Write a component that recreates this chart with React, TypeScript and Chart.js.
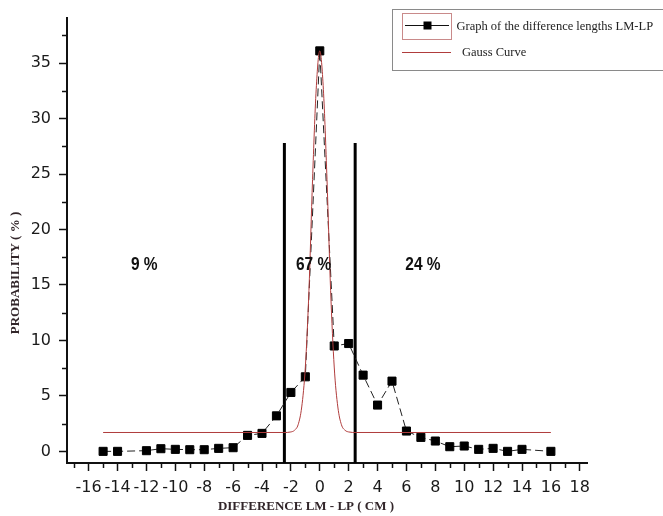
import React, { useEffect, useRef } from "react";
import { Chart, registerables } from "chart.js";
Chart.register(...registerables);

// Measured points: difference LM - LP (cm) and probability (%)
const diffX = [-15, -14, -12, -11, -10, -9, -8, -7, -6, -5, -4, -3, -2, -1, 0, 1, 2, 3, 4, 5, 6, 7, 8, 9, 10, 11, 12, 13, 14, 16];
const probY = [0, 0, 0.06, 0.24, 0.18, 0.15, 0.15, 0.27, 0.33, 1.44, 1.62, 3.2, 5.31, 6.72, 36.1, 9.5, 9.72, 6.87, 4.17, 6.33, 1.83, 1.26, 0.93, 0.42, 0.48, 0.18, 0.27, 0, 0.18, 0];

// Gauss curve
const gaussX = [-15, -2.5, -2, -1.75, -1.5, -1.25, -1, -0.75, -0.5, -0.25, 0, 0.25, 0.5, 0.75, 1, 1.25, 1.5, 1.75, 2, 2.5, 16];
const gaussY = [1.7, 1.7, 1.75, 1.9, 2.4, 4.0, 7.6, 14.5, 24.5, 32.6, 36.1, 32.6, 24.5, 14.5, 7.6, 4.0, 2.4, 1.9, 1.75, 1.7, 1.7];

// Vertical separators
const splitX = [-2.45, 2.45];
const splitTop = 27.8;

// Region annotations
const regionLabels = ["9 %", "67 %", "24 %"];
const regionX = [-12.15, -0.43, 7.14];
const regionY = [16.8, 16.8, 16.8];

// Axes
const xMin = -17.5;
const xMax = 18.5;
const yMin = -1.05;
const yMax = 39.1;
const xMajor = [-16, -14, -12, -10, -8, -6, -4, -2, 0, 2, 4, 6, 8, 10, 12, 14, 16, 18];
const xTickLabels = ["-16", "-14", "-12", "-10", "-8", "-6", "-4", "-2", "0", "2", "4", "6", "8", "10", "12", "14", "16", "18"];
const xMinor = [-17, -15, -13, -11, -9, -7, -5, -3, -1, 1, 3, 5, 7, 9, 11, 13, 15, 17];
const yMajor = [0, 5, 10, 15, 20, 25, 30, 35];
const yTickLabels = ["0", "5", "10", "15", "20", "25", "30", "35"];
const yMinor = [2.5, 7.5, 12.5, 17.5, 22.5, 27.5, 32.5, 37.5];

const xTitle = "DIFFERENCE LM - LP ( CM )";
const yTitle = "PROBABILITY ( % )";
const legendLabels = ["Graph of the difference lengths LM-LP", "Gauss Curve"];

const RED = "#b03c3c";

const extrasPlugin = {
  id: "extras",
  afterDraw(chart: any) {
    const ctx = chart.ctx as CanvasRenderingContext2D;
    const xs = chart.scales.x;
    const ys = chart.scales.y;
    const area = chart.chartArea;
    ctx.save();
    // minor ticks
    ctx.strokeStyle = "#111";
    ctx.lineWidth = 1.5;
    xMinor.forEach((v) => {
      const px = Math.round(xs.getPixelForValue(v)) + 0.5;
      ctx.beginPath();
      ctx.moveTo(px, area.bottom);
      ctx.lineTo(px, area.bottom + 5);
      ctx.stroke();
    });
    yMinor.forEach((v) => {
      const py = Math.round(ys.getPixelForValue(v)) + 0.5;
      ctx.beginPath();
      ctx.moveTo(area.left, py);
      ctx.lineTo(area.left - 5, py);
      ctx.stroke();
    });

    // region labels (condensed bold)
    ctx.fillStyle = "#111";
    ctx.font = 'bold 18px "Liberation Sans", Arial, sans-serif';
    ctx.textAlign = "center";
    ctx.textBaseline = "middle";
    regionLabels.forEach((t, i) => {
      const px = xs.getPixelForValue(regionX[i]);
      const py = ys.getPixelForValue(regionY[i]);
      ctx.save();
      ctx.translate(px, py);
      ctx.scale(0.86, 1);
      ctx.fillText(t, 0, 0);
      ctx.restore();
    });

    // axis titles
    ctx.fillStyle = "#32262a";
    ctx.font = 'bold 13px "Liberation Serif", "Times New Roman", serif';
    ctx.fillText(xTitle, 306, 507);
    ctx.save();
    ctx.translate(16, 273);
    ctx.rotate(-Math.PI / 2);
    ctx.fillText(yTitle, 0, 0);
    ctx.restore();

    // legend
    ctx.fillStyle = "#fff";
    ctx.fillRect(392.5, 9.5, 290, 61);
    ctx.strokeStyle = "#8a8a8a";
    ctx.lineWidth = 1;
    ctx.strokeRect(392.5, 9.5, 290, 61);
    ctx.strokeStyle = "#c98a8a";
    ctx.strokeRect(402.5, 13.5, 49, 26);
    ctx.strokeStyle = "#111";
    ctx.beginPath();
    ctx.moveTo(405, 25.5);
    ctx.lineTo(449, 25.5);
    ctx.stroke();
    ctx.fillStyle = "#000";
    ctx.fillRect(423.5, 21.5, 8, 8);
    ctx.strokeStyle = RED;
    ctx.beginPath();
    ctx.moveTo(402, 52.5);
    ctx.lineTo(451, 52.5);
    ctx.stroke();
    ctx.fillStyle = "#222";
    ctx.font = '12.5px "Liberation Serif", "Times New Roman", serif';
    ctx.textAlign = "left";
    ctx.fillText(legendLabels[0], 456.5, 27);
    ctx.fillText(legendLabels[1], 462, 53);
    ctx.restore();
  },
};

export default function App() {
  const ref = useRef<HTMLCanvasElement | null>(null);
  useEffect(() => {
    document.body.style.margin = "0";
    const canvas = ref.current;
    if (!canvas) return;
    const chart = new Chart(canvas, {
      type: "scatter",
      data: {
        datasets: [
          {
            label: legendLabels[1],
            data: gaussX.map((x, i) => ({ x, y: gaussY[i] })),
            showLine: true,
            borderColor: RED,
            borderWidth: 1,
            pointRadius: 0,
            cubicInterpolationMode: "monotone",
            fill: false,
          },
          {
            label: legendLabels[0],
            data: diffX.map((x, i) => ({ x, y: probY[i] })),
            showLine: true,
            borderColor: "#222",
            borderWidth: 1,
            borderDash: [8, 4],
            pointStyle: "rect",
            pointRadius: 5.7,
            pointBackgroundColor: "#000",
            pointBorderColor: "#000",
            pointBorderWidth: 1,
            fill: false,
          },
          ...splitX.map((sx) => ({
            label: "split",
            data: [
              { x: sx, y: yMin },
              { x: sx, y: splitTop },
            ],
            showLine: true,
            borderColor: "#000",
            borderWidth: 3,
            pointRadius: 0,
            fill: false,
          })),
        ],
      },
      options: {
        animation: false,
        responsive: false,
        maintainAspectRatio: false,
        layout: { padding: { top: 17, right: 76, left: 0, bottom: 0 } },
        plugins: {
          legend: { display: false },
          tooltip: { enabled: false },
          title: { display: false },
        },
        scales: {
          x: {
            type: "linear",
            min: xMin,
            max: xMax,
            afterBuildTicks: (scale: any) => {
              scale.ticks = xMajor.map((v) => ({ value: v }));
            },
            afterFit: (scale: any) => {
              scale.height = 53;
            },
            ticks: {
              autoSkip: false,
              maxRotation: 0,
              padding: 7,
              color: "#1a1a1a",
              font: { family: '"DejaVu Sans", sans-serif', size: 16 },
              callback: (_v: any, i: number) => xTickLabels[i],
            },
            grid: {
              display: true,
              drawOnChartArea: false,
              drawTicks: true,
              tickLength: 8,
              tickWidth: 1.5,
              tickColor: "#111",
            },
            border: { display: true, color: "#111", width: 2 },
          },
          y: {
            type: "linear",
            min: yMin,
            max: yMax,
            afterBuildTicks: (scale: any) => {
              scale.ticks = yMajor.map((v) => ({ value: v }));
            },
            afterFit: (scale: any) => {
              scale.width = 67;
            },
            ticks: {
              autoSkip: false,
              padding: 8,
              color: "#1a1a1a",
              font: { family: '"DejaVu Sans", sans-serif', size: 16 },
              callback: (_v: any, i: number) => yTickLabels[i],
            },
            grid: {
              display: true,
              drawOnChartArea: false,
              drawTicks: true,
              tickLength: 8,
              tickWidth: 1.5,
              tickColor: "#111",
            },
            border: { display: true, color: "#111", width: 2 },
          },
        },
      },
      plugins: [extrasPlugin],
    } as any);
    return () => chart.destroy();
  }, []);
  return (
    <div style={{ width: 663, height: 516, background: "#fff" }}>
      <canvas ref={ref} width={663} height={516} style={{ display: "block" }} />
    </div>
  );
}
